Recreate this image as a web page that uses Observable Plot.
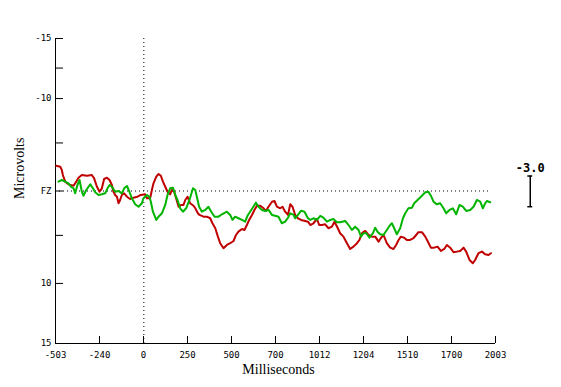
<!DOCTYPE html>
<html><head><meta charset="utf-8">
<script src="https://cdn.jsdelivr.net/npm/d3@7"></script>
<script src="https://cdn.jsdelivr.net/npm/@observablehq/plot@0.6"></script>
<style>body{margin:0;background:#fff}</style>
</head><body><div id="chart"></div>
<script>
// x axis: milliseconds (tick labels as printed in the reference)
const xMin = -503, xMax = 2003;
const xTickLabels = ["-503","-240","0","250","500","700","1012","1204","1510","1700","2003"];
// y axis: microvolts, negative up
const yMin = -16.5, yMax = 16.5;
const yTickValues = [-16.5, -13.3, -10, -5.2, 0, 4.8, 10, 16.5];
const yTickLabels = ["-15", "", "-10", "", "FZ", "", "10", "15"];

const redTime = [-499,-476,-467,-461,-448,-429,-400,-385,-372,-353,-324,-296,-283,-267,-252,-239,-226,-210,-195,-182,-173,-163,-153,-144,-135,-125,-112,-96,-78,-59,-36,-17,8,18,36,46,55,71,84,97,109,122,135,150,160,173,184,198,211,226,236,249,264,283,293,308,317,340,359,378,391,407,422,435,454,473,492,511,525,539,559,573,587,600,616,630,644,663,682,695,710,730,744,758,777,790,805,821,834,847,862,878,896,919,935,948,966,986,999,1014,1033,1052,1071,1086,1105,1118,1137,1157,1175,1194,1214,1228,1242,1261,1280,1299,1318,1337,1350,1365,1384,1403,1422,1437,1451,1464,1483,1498,1517,1536,1551,1564,1584,1603,1616,1635,1654,1673,1692,1711,1726,1745,1764,1783,1802,1821,1836,1855,1874,1887,1906,1926,1944,1963,1977];
const redUv = [-2.73,-2.63,-2.27,-1.73,-1.01,-0.72,-0.57,-1.01,-1.44,-1.73,-1.65,-1.73,-1.37,-0.46,0.08,-0.29,-1.30,-1.44,-1.19,-0.65,0.08,0.43,0.62,1.33,0.97,0.43,0.25,0.62,0.86,0.72,0.62,0.43,0.36,0.79,0.79,-0.11,-0.83,-1.55,-1.84,-1.65,-1.01,-0.46,0.08,0.36,-0.11,0.08,0.79,1.70,1.51,1.51,0.97,0.62,1.33,1.59,1.87,2.41,2.59,2.78,2.78,2.95,3.49,4.03,4.94,5.65,6.19,5.84,5.65,5.41,4.76,4.40,4.11,4.22,3.68,3.13,2.59,2.05,1.59,1.59,1.87,2.16,1.70,1.16,1.08,1.70,1.87,1.70,2.24,2.59,1.44,1.70,2.59,2.95,3.13,3.24,3.32,3.68,3.49,3.03,3.68,3.68,3.60,4.03,3.86,3.32,4.03,4.57,4.94,5.65,6.27,6.02,5.65,5.30,4.57,4.32,4.76,4.94,4.94,5.48,5.11,4.76,5.65,6.13,6.27,5.84,5.30,4.94,5.05,5.30,5.30,5.11,4.76,4.46,4.46,4.94,5.41,6.13,6.13,6.02,6.49,6.27,5.84,6.13,6.63,6.56,6.49,6.13,6.56,7.46,7.82,7.46,6.73,6.56,6.84,6.92,6.73];

const greenTime = [-486,-467,-448,-429,-415,-400,-391,-378,-366,-353,-344,-328,-315,-305,-290,-277,-258,-239,-220,-207,-195,-182,-163,-144,-125,-112,-96,-82,-68,-49,-30,-11,-2,18,32,40,52,71,84,103,122,135,150,166,179,192,207,223,241,260,280,293,302,315,331,350,368,384,403,425,445,473,492,505,520,539,559,577,593,612,630,638,653,673,691,710,730,748,767,786,805,821,834,853,862,878,896,915,935,948,966,986,1005,1023,1043,1062,1080,1100,1118,1147,1166,1185,1204,1223,1237,1251,1267,1285,1305,1318,1331,1346,1365,1384,1403,1413,1426,1441,1460,1476,1489,1507,1527,1540,1559,1584,1603,1621,1635,1650,1668,1688,1707,1722,1741,1760,1779,1798,1817,1836,1859,1878,1897,1916,1931,1944,1954,1973];
const greenUv = [-1.01,-1.19,-1.01,-0.83,-0.46,-0.29,0.25,-0.65,-1.19,0.08,0.51,-0.11,-0.46,-0.72,-0.29,0.14,0.43,0.36,0.25,-0.29,-0.65,-0.46,0.08,0.00,0.25,-0.29,-0.54,0.08,0.79,1.44,1.70,1.33,0.79,0.43,0.62,1.16,2.24,3.13,2.78,2.41,1.51,0.43,-0.29,-0.36,0.43,0.97,1.87,2.24,1.87,0.97,-0.29,-0.11,0.62,1.70,2.24,2.05,1.70,2.24,2.78,2.78,2.52,2.24,2.59,3.13,2.78,2.95,3.13,3.32,2.59,2.05,1.51,1.26,1.70,2.05,2.16,2.05,2.59,2.67,2.78,3.49,3.32,2.89,2.41,2.59,2.95,2.59,2.13,2.24,2.95,3.13,2.95,3.13,2.70,2.89,3.32,3.13,3.03,3.38,3.38,3.24,3.68,4.22,3.86,4.22,4.94,4.57,4.57,5.05,4.57,3.97,4.40,4.68,4.76,4.22,3.68,3.49,4.03,4.68,4.03,2.95,2.41,1.87,1.81,1.33,0.97,0.51,0.14,0.08,0.51,1.16,1.44,1.33,1.87,2.41,2.05,1.87,2.52,1.51,1.70,2.16,2.05,1.70,0.97,1.16,1.87,1.33,1.08,1.22];

// calibration bar at right
const scaleBarLabel = "-3.0";
const scaleBarTime = 2201, scaleBarTop = -1.62, scaleBarBottom = 1.70, scaleBarCap = 14, scaleBarLabelY = -2.5;

const red = redTime.map((t, i) => ({t, v: redUv[i]}));
const green = greenTime.map((t, i) => ({t, v: greenUv[i]}));
const xTickValues = d3.range(xTickLabels.length).map(i => xMin + i * (xMax - xMin) / (xTickLabels.length - 1));
const mono = "DejaVu Sans Mono";

const chart = Plot.plot({
  width: 561, height: 387,
  marginLeft: 55, marginRight: 66, marginTop: 38, marginBottom: 44,
  style: {fontFamily: mono, fontSize: "9px", background: "white", color: "black"},
  x: {domain: [xMin, xMax]},
  y: {domain: [yMin, yMax], reverse: true},
  marks: [
    // tick marks pointing inward
    Plot.axisX(xTickValues, {anchor: "bottom", tickSize: 7, dy: -7, tickFormat: () => "", label: null}),
    Plot.axisY(yTickValues, {anchor: "left", tickSize: 8, dx: 8, tickFormat: () => "", label: null}),
    // tick labels
    Plot.axisX(xTickValues, {anchor: "bottom", tickSize: 0, tickPadding: 8, label: null,
      tickFormat: d => xTickLabels[xTickValues.indexOf(d)]}),
    Plot.axisY(yTickValues, {anchor: "left", tickSize: 0, tickPadding: 4, label: null,
      tickFormat: d => yTickLabels[yTickValues.indexOf(d)]}),
    // axis lines
    Plot.ruleX([xMin], {stroke: "black"}),
    Plot.ruleY([yMax], {stroke: "black"}),
    // dotted reference lines
    Plot.ruleX([0], {stroke: "black", strokeDasharray: "1,3"}),
    Plot.ruleY([0], {x1: xMin, x2: d3.max(redTime), stroke: "black", strokeDasharray: "1,3"}),
    // waveforms
    Plot.line(red, {x: "t", y: "v", stroke: "#c00000", strokeWidth: 2}),
    Plot.line(green, {x: "t", y: "v", stroke: "#00b400", strokeWidth: 2}),
    // calibration bar
    Plot.ruleX([scaleBarTime], {y1: scaleBarTop, y2: scaleBarBottom, stroke: "black", strokeWidth: 1.5}),
    Plot.ruleY([scaleBarTop, scaleBarBottom], {x1: scaleBarTime - scaleBarCap, x2: scaleBarTime + scaleBarCap, stroke: "black", strokeWidth: 1.5}),
    Plot.text([scaleBarLabel], {x: scaleBarTime, y: scaleBarLabelY, fontSize: 12, fontWeight: "bold", fontFamily: mono}),
    // axis titles
    Plot.text(["Milliseconds"], {frameAnchor: "bottom", dx: 3, dy: 26, lineAnchor: "middle", fontFamily: "Liberation Serif", fontSize: 14}),
    Plot.text(["Microvolts"], {frameAnchor: "left", dx: -36, dy: 8, rotate: -90, fontFamily: "Liberation Serif", fontSize: 14})
  ]
});
document.getElementById("chart").append(chart);
</script>
</body></html>
